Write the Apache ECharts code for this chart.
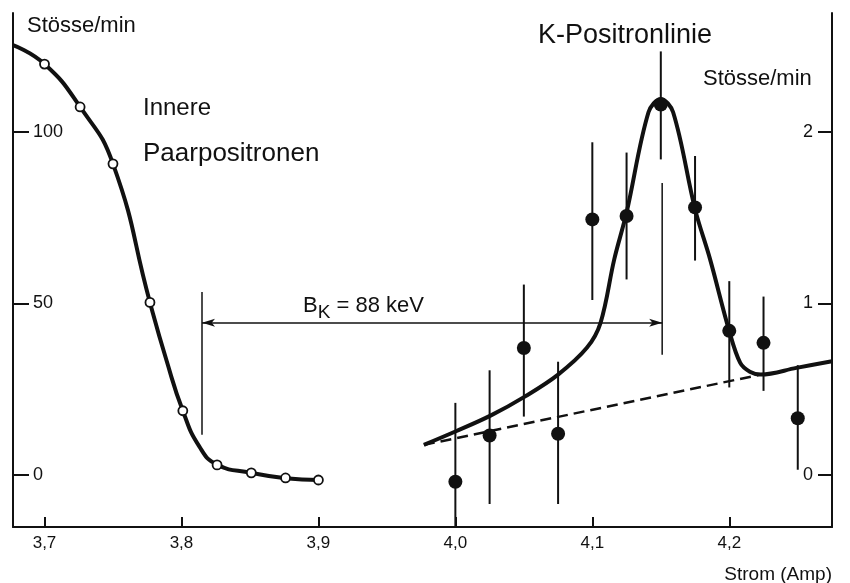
<!DOCTYPE html>
<html>
<head>
<meta charset="utf-8">
<title>K-Positronlinie</title>
<script src="https://cdn.jsdelivr.net/npm/echarts@6.0.0/dist/echarts.min.js"></script>
<style>
  html, body { margin: 0; padding: 0; background: #fff; }
  #main { width: 850px; height: 583px; }
</style>
</head>
<body>
<div id="main"></div>
<script>
// ticks
var xTicks = [3.7, 3.8, 3.9, 4.0, 4.1, 4.2];
var leftTicks = [0, 50, 100];
var rightTicks = [0, 1, 2];

// Innere Paarpositronen (left axis, Stösse/min), open circles
var paarX = [3.700, 3.726, 3.750, 3.777, 3.801, 3.826, 3.851, 3.876, 3.900];
var paarY = [119.8, 107.3, 90.7, 50.3, 18.7, 2.9, 0.6, -0.9, -1.5];

// hand drawn curve through the open circles
var paarCurveX = [3.677, 3.700, 3.726, 3.750, 3.777, 3.789, 3.801, 3.813, 3.826, 3.851, 3.876, 3.900];
var paarCurveY = [125.3, 119.8, 107.3, 90.7, 50.3, 33.5, 18.7, 8.3, 3.0, 0.6, -1.0, -1.5];

// K-Positronlinie (right axis, Stösse/min), filled points with error bars
var kX = [4.000, 4.025, 4.050, 4.075, 4.100, 4.125, 4.150, 4.175, 4.200, 4.225, 4.250];
var kY = [-0.04, 0.23, 0.74, 0.24, 1.49, 1.51, 2.16, 1.56, 0.84, 0.77, 0.33];
var kLow = [-0.30, -0.17, 0.34, -0.17, 1.02, 1.14, 1.84, 1.25, 0.51, 0.49, 0.03];
var kHigh = [0.42, 0.61, 1.11, 0.66, 1.94, 1.88, 2.47, 1.86, 1.13, 1.04, 0.64];

// fitted line over the points
var kCurveX = [3.977, 4.000, 4.026, 4.051, 4.075, 4.096, 4.106, 4.116, 4.125, 4.141, 4.150, 4.159, 4.175, 4.186, 4.200, 4.208, 4.215, 4.223, 4.249, 4.275];
var kCurveY = [0.175, 0.253, 0.347, 0.458, 0.585, 0.741, 0.887, 1.257, 1.530, 2.115, 2.193, 2.115, 1.550, 1.257, 0.838, 0.653, 0.602, 0.585, 0.624, 0.663];

// background (dashed)
var bgX = [3.977, 4.223];
var bgY = [0.175, 0.585];

// B_K = 88 keV marker, left axis units
var bkX = [3.815, 4.151];
var bkLow = [11.7, 35.0];
var bkHigh = [53.3, 85.1];
var bkArrowY = 44.4;

var ink = "#111";
var fam = '"Liberation Sans", Arial, sans-serif';

function pairs(xs, ys) {
  return xs.map(function (x, i) { return [x, ys[i]]; });
}

// vertical segment [x, low, high]
function vbar(width) {
  return function (params, api) {
    var p1 = api.coord([api.value(0), api.value(1)]);
    var p2 = api.coord([api.value(0), api.value(2)]);
    return {
      type: "line",
      shape: { x1: p1[0], y1: p1[1], x2: p2[0], y2: p2[1] },
      style: { stroke: ink, lineWidth: width },
    };
  };
}

var myChart = echarts.init(document.getElementById("main"));
myChart.setOption({
  animation: false,
  backgroundColor: "#fff",
  grid: { left: 13, right: 18, top: 13, bottom: 56 },
  xAxis: {
    type: "value",
    min: 3.677,
    max: 4.275,
    axisLine: { show: true, onZero: false, lineStyle: { color: ink, width: 2 } },
    axisTick: { show: true, inside: true, length: 10, customValues: xTicks, lineStyle: { color: ink, width: 2 } },
    axisLabel: {
      customValues: xTicks,
      margin: 8,
      color: ink,
      fontSize: 17,
      fontFamily: fam,
      formatter: function (v) { return v.toFixed(1).replace(".", ","); },
    },
    splitLine: { show: false },
  },
  yAxis: [
    {
      type: "value",
      position: "left",
      min: -15.2,
      max: 134.7,
      axisLine: { show: true, onZero: false, lineStyle: { color: ink, width: 2 } },
      axisTick: { show: true, inside: true, length: 16, customValues: leftTicks, lineStyle: { color: ink, width: 2 } },
      axisLabel: { inside: true, margin: 20, customValues: leftTicks, color: ink, fontSize: 18, fontFamily: fam },
      splitLine: { show: false },
    },
    {
      type: "value",
      position: "right",
      min: -0.304,
      max: 2.694,
      axisLine: { show: true, onZero: false, lineStyle: { color: ink, width: 2 } },
      axisTick: { show: true, inside: true, length: 14, customValues: rightTicks, lineStyle: { color: ink, width: 2 } },
      axisLabel: { inside: true, margin: 19, customValues: rightTicks, color: ink, fontSize: 18, fontFamily: fam },
      splitLine: { show: false },
    },
  ],
  series: [
    {
      name: "Paarpositronen Kurve",
      type: "line",
      smooth: 0.5,
      showSymbol: false,
      lineStyle: { color: ink, width: 4 },
      data: pairs(paarCurveX, paarCurveY),
      z: 2,
      markLine: {
        silent: true,
        symbol: ["arrow", "arrow"],
        symbolSize: [6, 13],
        label: { show: false },
        lineStyle: { color: ink, width: 1.5, type: "solid" },
        data: [[{ coord: [bkX[0], bkArrowY] }, { coord: [bkX[1], bkArrowY] }]],
      },
    },
    {
      name: "Innere Paarpositronen",
      type: "scatter",
      symbol: "circle",
      symbolSize: 9,
      itemStyle: { color: "#fff", borderColor: ink, borderWidth: 1.8, opacity: 1 },
      data: pairs(paarX, paarY),
      z: 4,
    },
    {
      name: "B_K",
      type: "custom",
      renderItem: vbar(1.5),
      encode: { x: 0, y: [1, 2] },
      data: bkX.map(function (x, i) { return [x, bkLow[i], bkHigh[i]]; }),
      z: 1,
    },
    {
      name: "Untergrund",
      type: "line",
      yAxisIndex: 1,
      showSymbol: false,
      lineStyle: { color: ink, width: 2.5, type: [11, 6] },
      data: pairs(bgX, bgY),
      z: 2,
    },
    {
      name: "K-Positronlinie Kurve",
      type: "line",
      yAxisIndex: 1,
      smooth: 0.35,
      showSymbol: false,
      lineStyle: { color: ink, width: 4 },
      data: pairs(kCurveX, kCurveY),
      z: 3,
    },
    {
      name: "Fehler",
      type: "custom",
      yAxisIndex: 1,
      renderItem: vbar(2),
      encode: { x: 0, y: [1, 2] },
      data: kX.map(function (x, i) { return [x, kLow[i], kHigh[i]]; }),
      z: 3,
    },
    {
      name: "K-Positronlinie",
      type: "scatter",
      yAxisIndex: 1,
      symbol: "circle",
      symbolSize: 14,
      itemStyle: { color: ink, opacity: 1 },
      data: pairs(kX, kY),
      z: 4,
    },
  ],
  graphic: [
    { type: "text", x: 27, y: 25.5, style: { text: "Stösse/min", font: "22px " + fam, fill: ink, textAlign: "left", textVerticalAlign: "middle" } },
    { type: "text", x: 143, y: 108, style: { text: "Innere", font: "24px " + fam, fill: ink, textAlign: "left", textVerticalAlign: "middle" } },
    { type: "text", x: 143, y: 154, style: { text: "Paarpositronen", font: "26px " + fam, fill: ink, textAlign: "left", textVerticalAlign: "middle" } },
    { type: "text", x: 538, y: 35.5, style: { text: "K-Positronlinie", font: "27px " + fam, fill: ink, textAlign: "left", textVerticalAlign: "middle" } },
    { type: "text", x: 703, y: 79, style: { text: "Stösse/min", font: "22px " + fam, fill: ink, textAlign: "left", textVerticalAlign: "middle" } },
    { type: "text", x: 832, y: 575, style: { text: "Strom (Amp)", font: "19px " + fam, fill: ink, textAlign: "right", textVerticalAlign: "middle" } },
    {
      type: "text",
      x: 303,
      y: 308.5,
      style: {
        text: "{a|B}{s|K}{a| = 88 keV}",
        fill: ink,
        textAlign: "left",
        textVerticalAlign: "middle",
        rich: {
          a: { fontSize: 22, fontFamily: fam, color: ink, lineHeight: 22, verticalAlign: "top" },
          s: { fontSize: 19, fontFamily: fam, color: ink, lineHeight: 28, verticalAlign: "bottom" },
        },
      },
    },
  ],
});
</script>
</body>
</html>
